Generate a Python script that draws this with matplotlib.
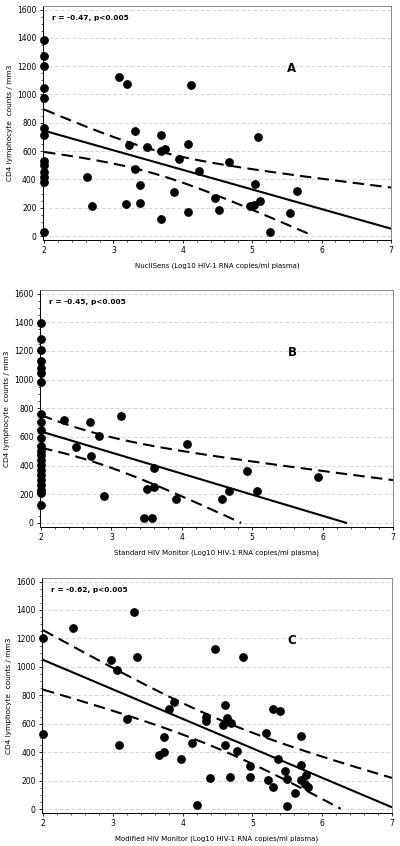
import numpy as np
import matplotlib
matplotlib.use('Agg')
import matplotlib.pyplot as plt
from matplotlib.ticker import MultipleLocator

# panel A - NucliSens
a_x = [2, 2, 2, 2, 2, 2, 2, 2, 2, 2, 2, 2, 2,
       3.08, 3.19, 4.12, 3.31, 3.68, 5.08, 3.22, 3.48, 4.08, 3.68, 3.74, 3.95,
       4.66, 3.31, 4.23, 3.38, 5.04, 3.88, 5.65, 3.18, 3.39, 4.46, 4.97, 5.03,
       5.11, 4.08, 4.52, 5.54, 3.68, 5.25, 2.62, 2.69]
a_y = [1387, 1271, 1200, 1045, 976, 763, 712, 528, 502, 455, 414, 383, 31,
       1125, 1073, 1068, 742, 717, 702, 644, 632, 652, 601, 614, 543,
       525, 476, 460, 360, 366, 309, 318, 227, 236, 272, 213, 222,
       248, 168, 184, 166, 122, 29, 419, 209]

# panel B - standard HIV monitor
b_x = [2] * 23 + [2.32, 2.70, 3.14, 2.82, 2.50, 2.71, 2.89, 4.08, 3.61, 3.50,
                  3.60, 3.92, 3.46, 3.57, 4.93, 4.67, 4.57, 5.07, 5.93]
b_y = [1398, 1281, 1206, 1129, 1083, 1043, 982, 763, 704, 651, 593, 534,
       499, 476, 441, 406, 371, 336, 301, 266, 231, 212, 126,
       720, 706, 748, 607, 530, 465, 188, 553, 384, 236,
       251, 169, 33, 33, 365, 223, 169, 223, 322]

# panel C - modified HIV monitor
c_x = [2.0, 2.43, 3.30, 2.97, 3.06, 3.34, 4.47, 4.87, 2.0, 3.09, 3.21, 3.81,
       3.87, 3.74, 3.74, 3.66, 3.97, 4.13, 4.33, 4.33, 4.39, 4.20, 4.60, 4.58,
       4.63, 4.70, 4.60, 4.78, 4.68, 4.96, 4.97, 5.20, 5.23, 5.29, 5.39, 5.36,
       5.47, 5.50, 5.30, 5.49, 5.61, 5.69, 5.69, 5.70, 5.77, 5.76, 5.80]
c_y = [1200, 1270, 1388, 1046, 977, 1072, 1123, 1072, 530, 451, 635, 705,
       752, 510, 398, 378, 352, 467, 648, 617, 219, 26, 731, 592,
       638, 604, 453, 408, 222, 301, 226, 535, 205, 703, 690, 353,
       265, 214, 158, 23, 114, 516, 312, 206, 241, 177, 156]

# regression lines: intercept, slope
fit_icpt = [1021, 932, 1464]
fit_slope = [-138.4, -147, -207.4]
# 95% band: half width = sqrt(band_min^2 + band_k^2 * (x - band_x0)^2)
band_min = [83, 101, 104]
band_k = [80.7, 87, 72]
band_x0 = [3.55, 2.6, 4.52]

stats = ['r = -0.47, p<0.005', 'r = -0.45, p<0.005', 'r = -0.62, p<0.005']
letters = ['A', 'B', 'C']
xlabels = ['NucliSens (Log10 HIV-1 RNA copies/ml plasma)',
           'Standard HIV Monitor (Log10 HIV-1 RNA copies/ml plasma)',
           'Modified HIV Monitor (Log10 HIV-1 RNA copies/ml plasma)']

fig = plt.figure(figsize=(4, 8.46), dpi=100)
boxes = [[0.1075, 0.7163, 0.87, 0.2766],
         [0.100, 0.3771, 0.8825, 0.2801],
         [0.105, 0.0390, 0.875, 0.2778]]

xs = [a_x, b_x, c_x]
ys = [a_y, b_y, c_y]

for i in range(3):
    ax = fig.add_axes(boxes[i])
    ax.set_xlim(1.985, 7.0)
    ax.set_ylim(-28, 1625)
    ax.yaxis.grid(True, linestyle=(0, (4, 3)), color='#cccccc', linewidth=0.6)
    ax.set_axisbelow(True)

    xx = np.linspace(2, 7, 300)
    fit = fit_icpt[i] + fit_slope[i] * xx
    half = np.sqrt(band_min[i] ** 2 + band_k[i] ** 2 * (xx - band_x0[i]) ** 2)
    up = fit + half
    lo = fit - half
    fit = np.where(fit < 0, np.nan, fit)
    lo = np.where(lo < 0, np.nan, lo)
    up = np.where(up < 0, np.nan, up)
    ax.plot(xx, fit, color='black', linewidth=1.5)
    ax.plot(xx, up, color='black', linewidth=1.5, linestyle=(0, (5.5, 3)))
    ax.plot(xx, lo, color='black', linewidth=1.5, linestyle=(0, (5.5, 3)))

    ax.scatter(xs[i], ys[i], s=28, color='black', zorder=3, clip_on=False)

    ax.text(0.025, 0.95, stats[i], transform=ax.transAxes, fontsize=5.3,
            fontweight='bold', ha='left', va='center')
    ax.text(0.715, 0.735, letters[i], transform=ax.transAxes, fontsize=8.5,
            fontweight='bold', ha='center', va='center')

    ax.set_yticks(range(0, 1601, 200))
    ax.set_xticks(range(2, 8))
    ax.xaxis.set_minor_locator(MultipleLocator(0.2))
    ax.yaxis.set_minor_locator(MultipleLocator(50))
    ax.tick_params(axis='both', which='major', labelsize=5.5, length=2.5,
                   width=0.6, pad=2)
    ax.tick_params(axis='both', which='minor', length=1.2, width=0.5)
    for side in ['top', 'right']:
        ax.spines[side].set_color('#777777')
        ax.spines[side].set_linewidth(0.6)
    for side in ['left', 'bottom']:
        ax.spines[side].set_linewidth(0.7)

    ax.set_xlabel(xlabels[i], fontsize=5, labelpad=5)
    ax.set_ylabel('CD4 lymphocyte  counts / mm3', fontsize=5.3, labelpad=3)

plt.savefig('out.png', dpi=100)
